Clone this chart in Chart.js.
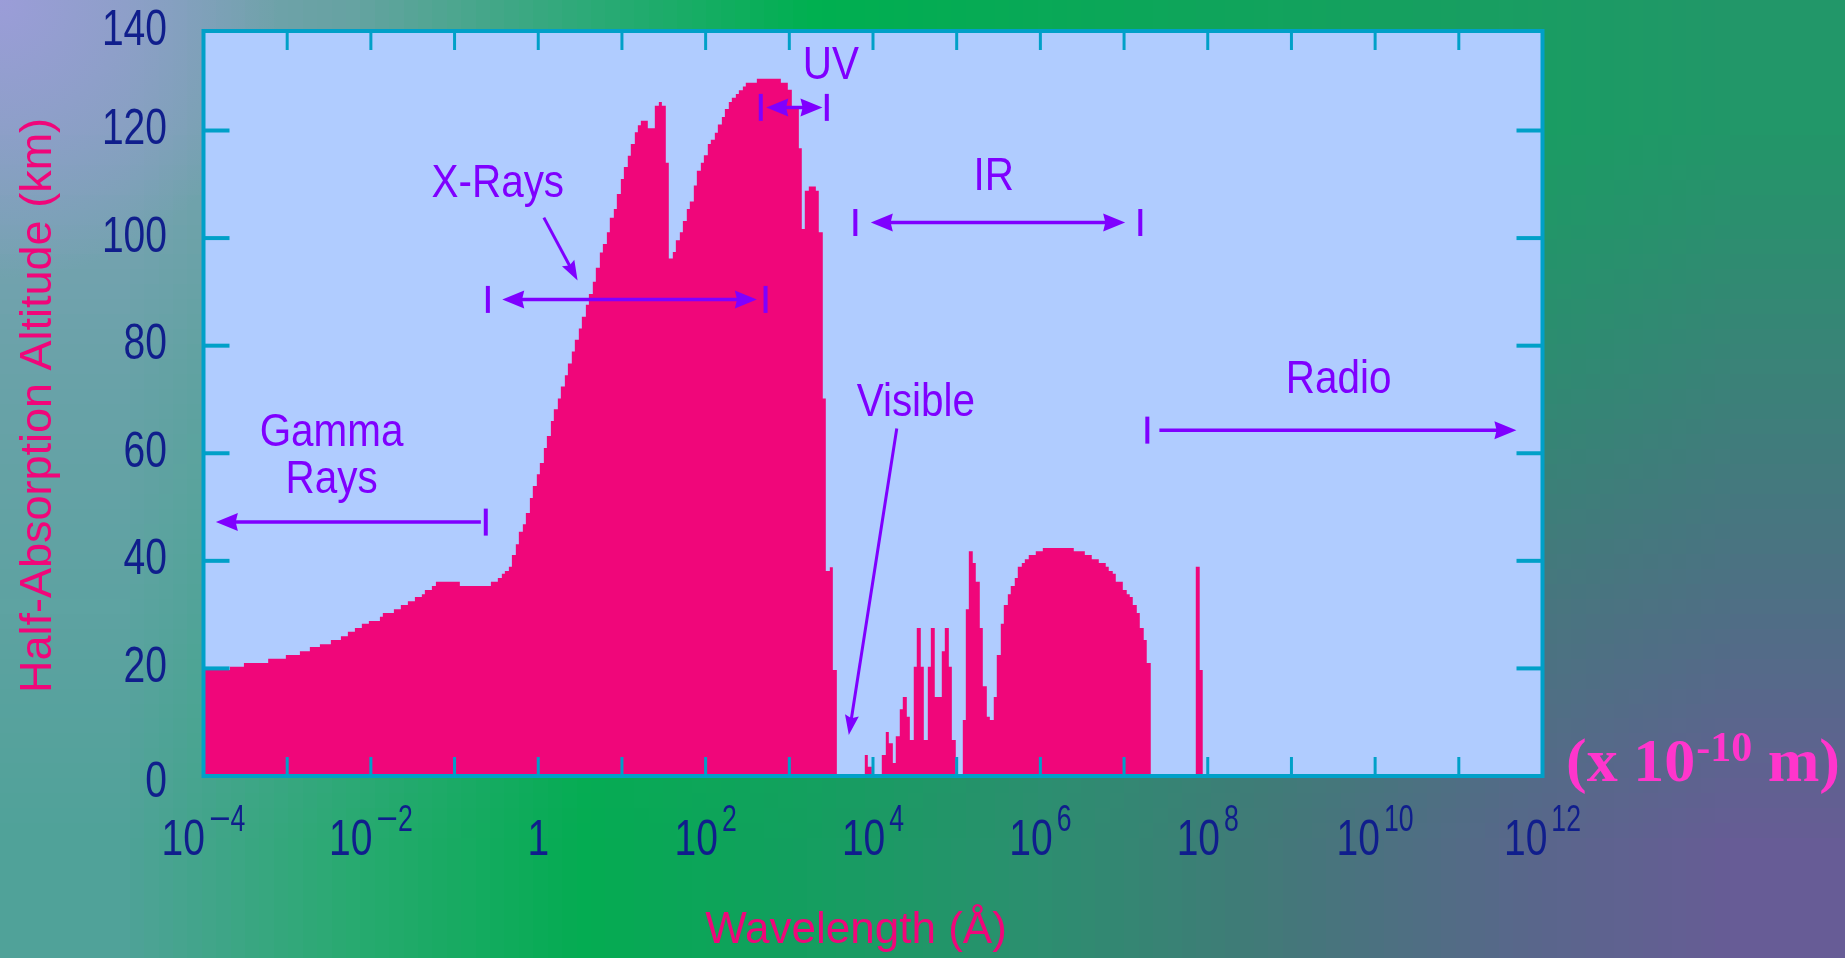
<!DOCTYPE html>
<html>
<head>
<meta charset="utf-8">
<title>Half-Absorption Altitude vs Wavelength</title>
<script src="https://cdn.jsdelivr.net/npm/chart.js@4/dist/chart.umd.min.js"></script>
<style>
  html, body { margin: 0; padding: 0; overflow: hidden; background: #1aa060; }
  canvas { display: block; }
</style>
</head>
<body>
<canvas id="chart" width="1845" height="958"></canvas>
<script>
// Altitude (km) at which half of the incoming solar radiation has been absorbed,
// plotted against log10 of wavelength in Ångström. Each value holds from its
// wavelength edge up to the next edge (a stepped profile).

// Gamma rays and the rising X-ray flank
const gammaEdges = [
  -4.000, -3.685, -3.517, -3.227, -3.016, -2.848, -2.729, -2.609, -2.478, -2.358, -2.275,
  -2.191, -2.108, -2.024, -1.892, -1.857, -1.725, -1.642, -1.558, -1.474, -1.391, -1.355,
  -1.271, -1.223, -0.937, -0.566, -0.483, -0.435, -0.399, -0.351, -0.315, -0.268, -0.232,
  -0.184, -0.148, -0.100, -0.065, -0.017, 0.019, 0.067, 0.103, 0.151, 0.186, 0.234
];
const gammaKm = [
  19.7, 20.3, 21.0, 21.8, 22.5, 23.2, 24.0, 24.5, 25.3, 26.0, 26.8,
  27.5, 28.3, 28.8, 29.6, 30.3, 31.0, 31.8, 32.5, 33.3, 33.8, 34.6,
  35.3, 36.1, 35.3, 36.1, 36.8, 37.6, 38.1, 38.9, 41.1, 43.1, 45.4,
  46.8, 48.9, 51.7, 53.9, 56.1, 58.2, 61.0, 63.2, 66.0, 68.2, 70.2
];

// X-ray and ultraviolet peaks
const xuvEdges = [
  0.270, 0.318, 0.354, 0.401, 0.437, 0.485, 0.521, 0.569, 0.605, 0.652, 0.688,
  0.736, 0.772, 0.820, 0.855, 0.903, 0.939, 0.987, 1.023, 1.070, 1.106, 1.154,
  1.190, 1.226, 1.309, 1.393, 1.441, 1.477, 1.524, 1.560, 1.608, 1.644, 1.692,
  1.728, 1.775, 1.811, 1.859, 1.895, 1.943, 1.979, 2.026, 2.062, 2.110, 2.146,
  2.194, 2.230, 2.277, 2.313, 2.361, 2.397, 2.445, 2.480, 2.612, 2.899, 2.982,
  3.030, 3.114, 3.149, 3.185, 3.233, 3.317, 3.352, 3.400, 3.436, 3.484, 3.520
];
const xuvKm = [
  72.4, 74.5, 76.7, 78.9, 81.1, 83.2, 85.4, 87.6, 89.6, 91.9, 94.5,
  97.3, 98.9, 101.1, 103.8, 105.4, 108.2, 111.0, 113.2, 115.3, 117.5, 119.7,
  121.0, 121.8, 120.4, 124.6, 125.3, 124.6, 114.0, 96.2, 97.4, 99.6, 101.1,
  103.2, 105.4, 106.8, 109.8, 112.5, 114.0, 115.4, 117.5, 118.3, 119.6, 121.1,
  122.5, 124.0, 125.3, 126.1, 126.8, 127.5, 128.2, 128.9, 129.6, 128.9, 127.6,
  124.0, 116.7, 101.7, 108.8, 109.6, 108.8, 101.1, 70.2, 38.1, 38.8, 19.7
];

// Visible window and infrared absorption bands
const irEdges = [
  3.568, 3.902, 3.938, 3.986, 4.105, 4.153, 4.189, 4.237, 4.272, 4.320, 4.356,
  4.404, 4.440, 4.487, 4.523, 4.571, 4.607, 4.655, 4.691, 4.738, 4.822, 4.858,
  4.906, 4.942, 4.989, 5.073, 5.109, 5.145, 5.192, 5.228, 5.276, 5.312, 5.360,
  5.396, 5.443, 5.479, 5.527, 5.563, 5.611, 5.646, 5.694, 5.730, 5.778, 5.814,
  5.861, 5.945, 6.029, 6.399, 6.531, 6.614, 6.698, 6.781, 6.817, 6.865, 6.901,
  6.985, 7.032, 7.068, 7.104, 7.152, 7.188, 7.235, 7.271, 7.319
];
const irKm = [
  0, 3.9, 1.7, 0, 3.9, 8.2, 6.1, 2.4, 7.4, 12.4, 14.7,
  11.0, 6.7, 20.3, 27.5, 20.3, 6.7, 20.3, 27.5, 14.7, 23.2, 27.5,
  20.3, 6.7, 0, 10.4, 31.0, 41.8, 39.6, 36.1, 27.5, 16.7, 11.0,
  10.4, 14.7, 22.5, 28.3, 31.8, 33.8, 35.3, 36.8, 38.9, 39.6, 40.3,
  41.1, 41.8, 42.4, 41.8, 41.1, 40.3, 39.6, 38.9, 38.1, 37.6, 36.1,
  34.6, 33.8, 33.3, 31.8, 30.3, 27.5, 25.3, 21.0, 0
];

// Radio window with its single narrow absorption line
const radioEdges = [7.857, 7.904, 7.940, 12.000];
const radioKm = [38.9, 19.7, 0, 0];

// Axis ranges and tick values
const wavelengthRange = [-4, 12];      // log10(λ / Å)
const altitudeTop = 138.5;             // top edge of the plot frame, km
const altitudeTicks = [0, 20, 40, 60, 80, 100, 120, 140];

// Spectral band brackets: line ends (log λ), heads, end bars, height (km)
const bandBrackets = [
  { km: 47.2,  from: -3.852, to: -0.686, heads: [true, false], bars: [-0.627] },
  { km: 88.6,  from: -0.430, to: 2.612,  heads: [true, true],  bars: [-0.602, 2.716] },
  { km: 124.3, from: 2.725,  to: 3.396,  heads: [true, true],  bars: [2.659, 3.448] },
  { km: 102.9, from: 3.974,  to: 7.013,  heads: [true, true],  bars: [3.789, 7.194] },
  { km: 64.3,  from: 7.422,  to: 11.688, heads: [false, true], bars: [7.278] }
];
const bandPointers = [
  { from: [0.067, 103.8], to: [0.470, 92.1] },
  { from: [4.284, 64.6],  to: [3.711, 7.6] }
];
const bandLabels = [
  { text: 'Gamma',   at: [-2.47, 61.3] },
  { text: 'Rays',    at: [-2.47, 52.6] },
  { text: 'X-Rays',  at: [-0.483, 107.6] },
  { text: 'UV',      at: [3.496, 129.6] },
  { text: 'IR',      at: [5.443, 108.9] },
  { text: 'Visible', at: [4.512, 66.9] },
  { text: 'Radio',   at: [9.564, 71.2] }
];

// Colours and fonts
const FILL = '#F0067A';
const PLOT_BG = '#B0CCFF';
const FRAME = '#00A0C8';
const NAVY = '#101E8C';
const PURPLE = '#7F00FF';
const SANS = "'Liberation Sans', Arial, sans-serif";
const SERIF = "'Liberation Serif', 'Times New Roman', serif";

// Soft page backdrop: a coarse colour grid smoothly stretched over the canvas
const backdropRows = [
  ['#7EA2B6', '#66A3A2', '#2DAA78', '#00B050', '#09A957', '#12A35D', '#199E62', '#229769'],
  ['#6AA2A9', '#4FA493', '#20AC68', '#04AF52', '#0FA75A', '#1F9A66', '#2C8D70', '#3A8378'],
  ['#5EA3A2', '#3AA686', '#0CAD58', '#12A65C', '#2B9070', '#3A8176', '#47777E', '#4F6F85'],
  ['#50A299', '#28AA70', '#04AC52', '#159E60', '#2D8E70', '#437979', '#57688A', '#675C96']
];
function makeBackdropTile() {
  const c = document.createElement('canvas');
  c.width = backdropRows[0].length;
  c.height = backdropRows.length;
  const g = c.getContext('2d');
  backdropRows.forEach((row, j) => row.forEach((col, i) => {
    g.fillStyle = col;
    g.fillRect(i, j, 1, 1);
  }));
  return c;
}
const backdropTile = makeBackdropTile();

const backdropPlugin = {
  id: 'backdrop',
  beforeDraw(chart) {
    const { ctx, chartArea: a } = chart;
    ctx.save();
    ctx.imageSmoothingEnabled = true;
    ctx.imageSmoothingQuality = 'low';
    ctx.drawImage(backdropTile, 0, 0, chart.width, chart.height);
    const rg = ctx.createRadialGradient(0, 0, 0, 0, 0, 280);
    rg.addColorStop(0, 'rgba(158,156,220,0.9)');
    rg.addColorStop(1, 'rgba(158,156,220,0)');
    ctx.fillStyle = rg;
    ctx.fillRect(0, 0, 300, 300);
    ctx.fillStyle = PLOT_BG;
    ctx.fillRect(a.left, a.top, a.right - a.left, a.bottom - a.top);
    ctx.restore();
  }
};

function seg(ctx, x1, y1, x2, y2) {
  ctx.beginPath();
  ctx.moveTo(x1, y1);
  ctx.lineTo(x2, y2);
  ctx.stroke();
}

// Text squeezed horizontally to the narrow lettering of the axes
function narrowText(ctx, text, x, y, sx, align) {
  const w = ctx.measureText(text).width * sx;
  const left = align === 'center' ? x - w / 2 : align === 'right' ? x - w : x;
  ctx.save();
  ctx.translate(left, y);
  ctx.scale(sx, 1);
  ctx.textAlign = 'left';
  ctx.fillText(text, 0, 0);
  ctx.restore();
  return w;
}

// Plot frame with inward tick marks on all four sides
const framePlugin = {
  id: 'frame',
  afterDatasetsDraw(chart) {
    const { ctx, chartArea: a, scales: { x, y } } = chart;
    ctx.save();
    ctx.strokeStyle = FRAME;
    ctx.lineWidth = 3;
    x.ticks.forEach(t => {
      if (t.value <= x.min || t.value >= x.max) return;
      const px = x.getPixelForValue(t.value);
      seg(ctx, px, a.top, px, a.top + 19);
      seg(ctx, px, a.bottom - 19, px, a.bottom);
    });
    ctx.lineWidth = 4;
    y.ticks.forEach(t => {
      if (t.value <= y.min || t.value >= y.max) return;
      const py = y.getPixelForValue(t.value);
      seg(ctx, a.left, py, a.left + 26, py);
      seg(ctx, a.right - 26, py, a.right, py);
    });
    ctx.strokeRect(a.left, a.top, a.right - a.left, a.bottom - a.top);
    ctx.restore();
  }
};

function arrowHead(ctx, x, y, angle, len, half, notch) {
  ctx.save();
  ctx.translate(x, y);
  ctx.rotate(angle);
  ctx.beginPath();
  ctx.moveTo(0, 0);
  ctx.lineTo(-len, -half);
  ctx.lineTo(-len * notch, 0);
  ctx.lineTo(-len, half);
  ctx.closePath();
  ctx.fill();
  ctx.restore();
}

// Band names, bracket arrows and pointers, placed in data coordinates
const bandPlugin = {
  id: 'bands',
  afterDatasetsDraw(chart) {
    const { ctx, scales: { x, y } } = chart;
    ctx.save();
    ctx.strokeStyle = PURPLE;
    ctx.fillStyle = PURPLE;
    ctx.lineCap = 'butt';

    bandBrackets.forEach(b => {
      const py = y.getPixelForValue(b.km);
      const x1 = x.getPixelForValue(b.from);
      const x2 = x.getPixelForValue(b.to);
      ctx.lineWidth = 3.5;
      seg(ctx, x1 + (b.heads[0] ? 8 : 0), py, x2 - (b.heads[1] ? 8 : 0), py);
      if (b.heads[0]) arrowHead(ctx, x1, py, Math.PI, 22, 9, 0.9);
      if (b.heads[1]) arrowHead(ctx, x2, py, 0, 22, 9, 0.9);
      ctx.lineWidth = 4;
      b.bars.forEach(v => {
        const bx = x.getPixelForValue(v);
        seg(ctx, bx, py - 13.5, bx, py + 13.5);
      });
    });

    bandPointers.forEach(p => {
      const ax = x.getPixelForValue(p.from[0]);
      const ay = y.getPixelForValue(p.from[1]);
      const bx = x.getPixelForValue(p.to[0]);
      const by = y.getPixelForValue(p.to[1]);
      const ang = Math.atan2(by - ay, bx - ax);
      ctx.lineWidth = 3;
      seg(ctx, ax, ay, bx - Math.cos(ang) * 10, by - Math.sin(ang) * 10);
      arrowHead(ctx, bx, by, ang, 20, 7, 0.85);
    });

    ctx.font = `47px ${SANS}`;
    ctx.textBaseline = 'alphabetic';
    bandLabels.forEach(l => {
      narrowText(ctx, l.text, x.getPixelForValue(l.at[0]), y.getPixelForValue(l.at[1]), 0.86, 'center');
    });
    ctx.restore();
  }
};

// Tick labels of both axes, axis titles and the metre conversion note
const labelPlugin = {
  id: 'labels',
  afterDraw(chart) {
    const { ctx, chartArea: a, scales: { x, y } } = chart;
    ctx.save();
    ctx.fillStyle = NAVY;
    ctx.textBaseline = 'alphabetic';

    // altitude labels, kept within the height of the frame
    ctx.font = `50px ${SANS}`;
    y.ticks.forEach(t => {
      const py = Math.min(Math.max(y.getPixelForValue(t.value), a.top), a.bottom);
      const base = t.value === y.min ? py + 21 : py + 13.5;
      narrowText(ctx, String(t.value), a.left - 36.5, base, 0.78, 'right');
    });

    // wavelength decades, labelled every second power of ten
    const baseY = 855;
    x.ticks.forEach(t => {
      const v = Math.round(t.value);
      if (v % 2 !== 0) return;
      const px = x.getPixelForValue(v);
      ctx.font = `50px ${SANS}`;
      if (v === 0) {
        narrowText(ctx, '1', px, baseY, 0.78, 'center');
        return;
      }
      const wb = ctx.measureText('10').width * 0.78;
      ctx.font = `37px ${SANS}`;
      const digits = String(Math.abs(v));
      const wm = v < 0 ? ctx.measureText('\u2212').width : 0;
      const wd = ctx.measureText(digits).width * 0.72;
      const gap = 4;
      let cx = px - (wb + gap + wm + wd) / 2;
      ctx.font = `50px ${SANS}`;
      narrowText(ctx, '10', cx, baseY, 0.78, 'left');
      cx += wb + gap;
      ctx.font = `37px ${SANS}`;
      if (v < 0) {
        ctx.textAlign = 'left';
        ctx.fillText('\u2212', cx, baseY - 24);
        cx += wm;
      }
      narrowText(ctx, digits, cx, baseY - 24, 0.72, 'left');
    });

    ctx.fillStyle = FILL;
    ctx.textAlign = 'center';
    ctx.font = `45px ${SANS}`;
    ctx.save();
    ctx.translate(51, (a.top + a.bottom) / 2 + 2);
    ctx.rotate(-Math.PI / 2);
    ctx.fillText('Half-Absorption Altitude (km)', 0, 0);
    ctx.restore();
    ctx.font = `44px ${SANS}`;
    ctx.fillText('Wavelength (\u00C5)', 856, 943);

    ctx.fillStyle = '#FF35CC';
    ctx.textAlign = 'left';
    let nx = 1566;
    const noteY = 781;
    ctx.font = `bold 62px ${SERIF}`;
    ctx.fillText('(x 10', nx, noteY);
    nx += ctx.measureText('(x 10').width + 1;
    ctx.font = `bold 42px ${SERIF}`;
    ctx.fillText('-10', nx, noteY - 20);
    nx += ctx.measureText('-10').width;
    ctx.font = `bold 62px ${SERIF}`;
    ctx.fillText(' m)', nx, noteY);
    ctx.restore();
  }
};

const points = [
  ...gammaEdges.map((v, i) => ({ x: v, y: gammaKm[i] })),
  ...xuvEdges.map((v, i) => ({ x: v, y: xuvKm[i] })),
  ...irEdges.map((v, i) => ({ x: v, y: irKm[i] })),
  ...radioEdges.map((v, i) => ({ x: v, y: radioKm[i] }))
];

function squareFit(size) {
  return s => {
    if (s.isHorizontal()) s.height = size; else s.width = size;
    s.paddingTop = 0;
    s.paddingBottom = 0;
    s.paddingLeft = 0;
    s.paddingRight = 0;
  };
}

new Chart(document.getElementById('chart'), {
  type: 'line',
  data: {
    datasets: [{
      label: 'Half-absorption altitude',
      data: points,
      stepped: 'before',
      fill: 'origin',
      backgroundColor: FILL,
      borderColor: FILL,
      borderWidth: 0,
      pointRadius: 0,
      pointHoverRadius: 0
    }]
  },
  options: {
    responsive: false,
    animation: false,
    devicePixelRatio: 1,
    events: [],
    layout: { padding: { left: 0, right: 302.5, top: 31, bottom: 0 } },
    plugins: {
      legend: { display: false },
      tooltip: { enabled: false }
    },
    scales: {
      x: {
        type: 'linear',
        min: wavelengthRange[0],
        max: wavelengthRange[1],
        ticks: { stepSize: 1, display: false },
        grid: { display: false, drawTicks: false },
        border: { display: false },
        afterFit: squareFit(182)
      },
      y: {
        type: 'linear',
        min: 0,
        max: altitudeTop,
        afterBuildTicks: s => { s.ticks = altitudeTicks.map(v => ({ value: v })); },
        ticks: { display: false },
        grid: { display: false, drawTicks: false },
        border: { display: false },
        afterFit: squareFit(203.5)
      }
    }
  },
  plugins: [backdropPlugin, framePlugin, bandPlugin, labelPlugin]
});
</script>
</body>
</html>
